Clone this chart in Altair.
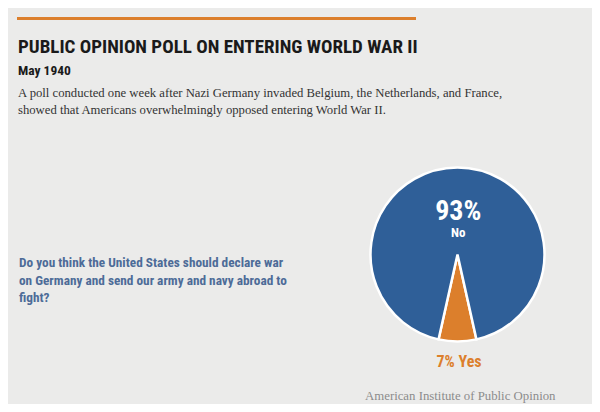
import math
import altair as alt
import pandas as pd

# ---- data ----
categories = ["Yes", "No"]
shares = [7, 93]
slice_colors = ["#dc7f2c", "#2f5f98"]
pct_labels = ["7%", "93%"]

title_text = "PUBLIC OPINION POLL ON ENTERING WORLD WAR II"
subtitle_text = "May 1940"
desc_lines = [
    "A poll conducted one week after Nazi Germany invaded Belgium, the Netherlands, and France,",
    "showed that Americans overwhelmingly opposed entering World War II.",
]
question_lines = [
    "Do you think the United States should declare war",
    "on Germany and send our army and navy abroad to",
    "fight?",
]
source_text = "American Institute of Public Opinion"

COND = "Roboto Condensed, Open Sans Condensed, sans-serif"
SERIF = "Liberation Serif, DejaVu Serif, serif"
BG = "#ebebea"

df = pd.DataFrame({"cat": categories, "share": shares, "order": [0, 1]})

# rotate so the small slice is centred at the bottom
start = math.pi * (1 - shares[0] / 100)
cx, cy, r = 449.5, 246.5, 87

pie = alt.Chart(df).mark_arc(stroke="white", strokeWidth=2.5, radius=r).encode(
    theta=alt.Theta("share:Q", stack=True,
                    scale=alt.Scale(domain=[0, 100], range=[start, start + 2 * math.pi])),
    color=alt.Color("cat:N", scale=alt.Scale(domain=categories, range=slice_colors), legend=None),
    order=alt.Order("order:Q"),
    x=alt.value(cx),
    y=alt.value(cy),
)

dummy = alt.Data(values=[{"a": 1}])


def txt(text, x, y, size, color, font, weight="normal", align="left", lh=None):
    kw = dict(text=text, fontSize=size, color=color, font=font, fontWeight=weight,
              align=align, baseline="alphabetic")
    if lh:
        kw["lineHeight"] = lh
    return alt.Chart(dummy).mark_text(**kw).encode(x=alt.value(x), y=alt.value(y))


rule = alt.Chart(dummy).mark_rule(color="#dc7f2c", strokeWidth=3).encode(
    x=alt.value(9), x2=alt.value(408), y=alt.value(10.5)
)

layers = [
    rule,
    txt(title_text, 10, 44.5, 19.0, "#1a1a1a", COND, "bold"),
    txt(subtitle_text, 10, 66.5, 13.5, "#1a1a1a", COND, "bold"),
    txt(desc_lines, 10, 88.7, 12.7, "#333333", SERIF, lh=17),
    txt(question_lines, 11, 259, 13.3, "#4d6b98", COND, "bold", lh=17.5),
    pie,
    txt(pct_labels[1], 450.3, 211.5, 28, "white", COND, "bold", "center"),
    txt("No", 450.3, 228.7, 13, "white", COND, "bold", "center"),
    txt(pct_labels[0] + " Yes", 451, 358.7, 16, "#dc7f2c", COND, "bold", "center"),
    txt(source_text, 357, 392, 12.8, "#8c8c8c", SERIF),
]

chart = alt.layer(*layers).properties(
    width=584, height=396, background=BG, padding=0, autosize="none"
).configure_view(stroke=None)

chart.save("out.html", embed_options={"renderer": "svg", "actions": False})
